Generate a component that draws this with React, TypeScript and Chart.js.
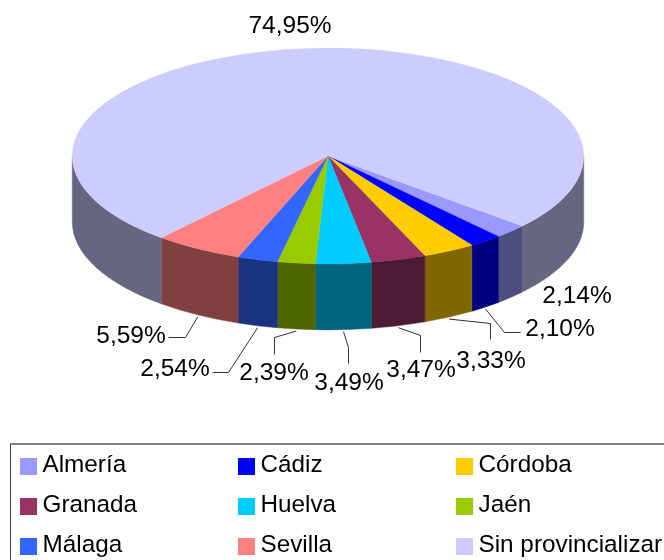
import React, { useEffect, useRef } from "react";
import { Chart, registerables } from "chart.js";

Chart.register(...registerables);

const categories = ["Almería", "Cádiz", "Córdoba", "Granada", "Huelva", "Jaén", "Málaga", "Sevilla", "Sin provincializar"];
const shares = [2.14, 2.1, 3.33, 3.47, 3.49, 2.39, 2.54, 5.59, 74.95];
const shareLabels = ["2,14%", "2,10%", "3,33%", "3,47%", "3,49%", "2,39%", "2,54%", "5,59%", "74,95%"];
const topColors = ["#9999FF", "#0000FF", "#FFCC00", "#993366", "#00CCFF", "#99CC00", "#3366FF", "#FF8080", "#CCCCFF"];
const wallColors = ["#4D4D80", "#000080", "#806600", "#4D1A33", "#006680", "#4D6600", "#1A3380", "#804040", "#666680"];

// Text centre of each value label, and the elbow of its leader line (if any)
const labelCentres: [number, number][] = [
  [577, 296], [560, 329], [491, 361], [421, 370], [349, 383], [274, 373], [175, 369], [131, 336], [290, 26],
];
const leaderElbows: ([number, number][] | null)[] = [
  null,
  [[504, 332], [520, 332]],
  [[490, 323], [490, 339]],
  [[420, 335], [420, 352]],
  [[348, 347], [348, 363]],
  [[274, 337], [274, 354]],
  [[228, 372], [212, 372]],
  [[185, 337], [168, 337]],
  null,
];

const FONT = '24.5px "Liberation Sans", Arial, sans-serif';
const LEGEND_FONT = '24.3px "Liberation Sans", Arial, sans-serif';
const PIE_Y = 156;
const SQUASH = 108 / 256;
const DEPTH = 66;

const pie3d = {
  id: "pie3d",
  beforeDatasetsDraw(chart: any) {
    const ctx = chart.ctx;
    const arcs = chart.getDatasetMeta(0).data;
    ctx.save();
    arcs.forEach((arc: any, i: number) => {
      const { startAngle, endAngle, outerRadius: r, x } = arc;
      const ry = r * SQUASH;
      for (let k = 0; k < 2; k++) {
        const a = Math.max(startAngle, k * 2 * Math.PI);
        const b = Math.min(endAngle, Math.PI + k * 2 * Math.PI);
        if (b <= a) continue;
        ctx.beginPath();
        ctx.ellipse(x, PIE_Y, r, ry, 0, a, b, false);
        ctx.ellipse(x, PIE_Y + DEPTH, r, ry, 0, b, a, true);
        ctx.closePath();
        ctx.fillStyle = wallColors[i];
        ctx.strokeStyle = wallColors[i];
        ctx.lineWidth = 0.5;
        ctx.fill();
        ctx.stroke();
      }
    });
    ctx.restore();
    ctx.save();
    const cx = arcs[0].x;
    const cy = arcs[0].y;
    ctx.translate(cx, PIE_Y);
    ctx.scale(1, SQUASH);
    ctx.translate(-cx, -cy);
  },
  afterDatasetsDraw(chart: any) {
    const ctx = chart.ctx;
    ctx.restore();
    const arcs = chart.getDatasetMeta(0).data;
    ctx.save();
    ctx.strokeStyle = "#333333";
    ctx.lineWidth = 1;
    leaderElbows.forEach((elbow, i) => {
      if (!elbow) return;
      const arc = arcs[i];
      const mid = (arc.startAngle + arc.endAngle) / 2;
      const ax = arc.x + arc.outerRadius * Math.cos(mid);
      const ay = PIE_Y + DEPTH + arc.outerRadius * SQUASH * Math.sin(mid) + 2;
      ctx.beginPath();
      ctx.moveTo(ax, ay);
      elbow.forEach(([ex, ey]) => ctx.lineTo(ex + 0.5, ey + 0.5));
      ctx.stroke();
    });
    ctx.fillStyle = "#000000";
    ctx.font = FONT;
    ctx.textAlign = "center";
    ctx.textBaseline = "middle";
    shareLabels.forEach((t, i) => ctx.fillText(t, labelCentres[i][0], labelCentres[i][1]));
    ctx.restore();
  },
};

const legendCols = [20, 238, 456];
const legendRows = [458, 498, 538];

export default function App() {
  const ref = useRef<HTMLCanvasElement>(null);
  useEffect(() => {
    const chart = new Chart(ref.current as HTMLCanvasElement, {
      type: "pie",
      data: {
        labels: categories,
        datasets: [{ data: shares, backgroundColor: topColors, borderColor: topColors, borderWidth: 0.5, clip: false } as any],
      },
      options: {
        animation: false,
        responsive: false,
        rotation: 130.5,
        layout: { padding: { left: 72, right: 80, top: 0, bottom: 48 } },
        plugins: { legend: { display: false }, tooltip: { enabled: false } },
      },
      plugins: [pie3d],
    } as any);
    return () => chart.destroy();
  }, []);
  return (
    <div style={{ position: "absolute", left: 0, top: 0, width: 664, height: 560, overflow: "hidden", background: "#fff" }}>
      <canvas ref={ref} width={664} height={560} style={{ position: "absolute", left: 0, top: 0, display: "block" }} />
      <div style={{ position: "absolute", left: 10, top: 443, width: 700, height: 200, boxSizing: "border-box", borderTop: "2px solid #808080", borderLeft: "1px solid #404040" }} />
      {categories.map((c, i) => {
        const x = legendCols[i % 3];
        const y = legendRows[Math.floor(i / 3)];
        return (
          <React.Fragment key={c}>
            <div style={{ position: "absolute", left: x, top: y, width: 17, height: 17, background: topColors[i] }} />
            <div style={{ position: "absolute", left: x + 22.5, top: y - 8, height: 28, lineHeight: "28px", font: LEGEND_FONT, color: "#000", whiteSpace: "nowrap" }}>{c}</div>
          </React.Fragment>
        );
      })}
    </div>
  );
}
